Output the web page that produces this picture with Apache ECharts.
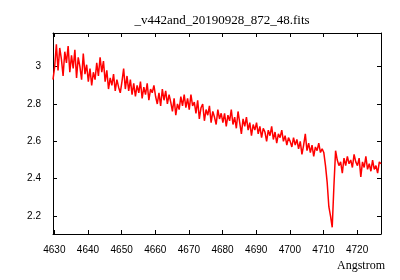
<!DOCTYPE html>
<html>
<head>
<meta charset="utf-8">
<script src="https://cdn.jsdelivr.net/npm/echarts@6/dist/echarts.min.js"></script>
<style>
  html, body { margin: 0; padding: 0; background: #fff; }
  #chart { width: 400px; height: 280px; }
</style>
</head>
<body>
<div id="chart"></div>
<script>
var waveStart = 4629.6;
var waveStep = 0.5;

var flux = [
  // 4629.6 - 4639.6
  2.93, 3.00, 3.12, 2.98, 3.10, 3.04, 2.95, 3.08, 3.02, 3.11, 2.97, 3.06, 2.99, 3.09, 2.94, 3.05, 3.00, 2.93, 3.07, 2.96, 3.01,
  // 4640.1 - 4649.1
  2.92, 2.99, 2.90, 2.97, 2.93, 3.02, 2.95, 3.05, 2.97, 3.03, 2.92, 2.98, 2.88, 2.94, 2.90, 2.96, 2.87, 2.93, 2.89,
  // 4649.6 - 4659.6
  2.86, 2.92, 2.99, 2.88, 2.95, 2.87, 2.93, 2.85, 2.91, 2.84, 2.90, 2.86, 2.92, 2.83, 2.89, 2.85, 2.91, 2.82, 2.88, 2.86, 2.90,
  // 4660.1 - 4669.1
  2.84, 2.80, 2.86, 2.79, 2.88, 2.82, 2.87, 2.80, 2.85, 2.81, 2.76, 2.83, 2.74, 2.80, 2.77, 2.84, 2.79, 2.85, 2.78,
  // 4669.6 - 4679.6
  2.83, 2.77, 2.85, 2.79, 2.81, 2.75, 2.82, 2.72, 2.78, 2.80, 2.71, 2.77, 2.74, 2.79, 2.70, 2.76, 2.73, 2.69, 2.77, 2.72, 2.75,
  // 4680.1 - 4689.1
  2.70, 2.75, 2.68, 2.74, 2.71, 2.77, 2.69, 2.73, 2.67, 2.76, 2.70, 2.64, 2.72, 2.68, 2.73, 2.66, 2.70, 2.63, 2.69,
  // 4689.6 - 4699.6
  2.66, 2.70, 2.64, 2.68, 2.62, 2.67, 2.65, 2.60, 2.66, 2.63, 2.68, 2.61, 2.65, 2.59, 2.64, 2.62, 2.66, 2.60, 2.63, 2.58, 2.62,
  // 4700.1 - 4709.1
  2.60, 2.57, 2.62, 2.58, 2.61, 2.56, 2.60, 2.53, 2.58, 2.64, 2.55, 2.59, 2.54, 2.58, 2.52, 2.57, 2.55, 2.59, 2.54,
  // 4709.6 - 4714.6 (absorption line)
  2.56, 2.54, 2.47, 2.38, 2.25, 2.20, 2.14, 2.36, 2.55, 2.50, 2.47,
  // 4715.1 - 4727.1
  2.49, 2.43, 2.51, 2.47, 2.52, 2.48, 2.50, 2.46, 2.53, 2.49, 2.47, 2.51, 2.41, 2.49, 2.46, 2.52, 2.45, 2.48, 2.44, 2.50, 2.45, 2.47, 2.43, 2.49, 2.48
];

var xTicks = [4630, 4640, 4650, 4660, 4670, 4680, 4690, 4700, 4710, 4720];
var yTicks = [2.2, 2.4, 2.6, 2.8, 3];

var points = flux.map(function (f, i) {
  return [waveStart + i * waveStep, f];
});

var chart = echarts.init(document.getElementById('chart'));

var axisCommon = {
  type: 'value',
  axisLine: { show: true, onZero: false, lineStyle: { color: '#000', width: 1 } },
  splitLine: { show: false }
};

function xAxis(pos, labels) {
  return Object.assign({}, axisCommon, {
    position: pos,
    min: 4629.6,
    max: 4727.1,
    axisTick: { show: true, inside: true, length: 4, customValues: xTicks, lineStyle: { color: '#000' } },
    axisLabel: {
      show: labels, customValues: xTicks, margin: 11,
      fontFamily: 'Liberation Sans', fontSize: 10, color: '#000',
      formatter: function (v) { return String(Math.round(v)); }
    }
  });
}

function yAxis(pos, labels) {
  return Object.assign({}, axisCommon, {
    position: pos,
    min: 2.104,
    max: 3.18,
    axisTick: { show: true, inside: true, length: 4, customValues: yTicks, lineStyle: { color: '#000' } },
    axisLabel: {
      show: labels, customValues: yTicks, margin: 12,
      fontFamily: 'Liberation Sans', fontSize: 10, color: '#000',
      formatter: function (v) { return String(Math.round(v * 10) / 10); }
    }
  });
}

var option = {
  animation: false,
  title: [
    {
      text: '_v442and_20190928_872_48.fits',
      left: 217, top: 9, textAlign: 'center',
      textStyle: { fontFamily: 'Liberation Serif', fontSize: 13, fontWeight: 'normal', color: '#000' }
    },
    {
      text: 'Angstrom',
      left: 332, top: 255,
      textStyle: { fontFamily: 'Liberation Serif', fontSize: 12, fontWeight: 'normal', color: '#000' }
    }
  ],
  grid: { left: 53, right: 19, top: 33, bottom: 46 },
  xAxis: [xAxis('bottom', true), xAxis('top', false)],
  yAxis: [yAxis('left', true), yAxis('right', false)],
  series: [
    {
      type: 'line',
      data: points,
      showSymbol: false,
      clip: true,
      lineStyle: { color: '#ff0000', width: 1.5 }
    }
  ]
};

chart.setOption(option);
</script>
</body>
</html>
